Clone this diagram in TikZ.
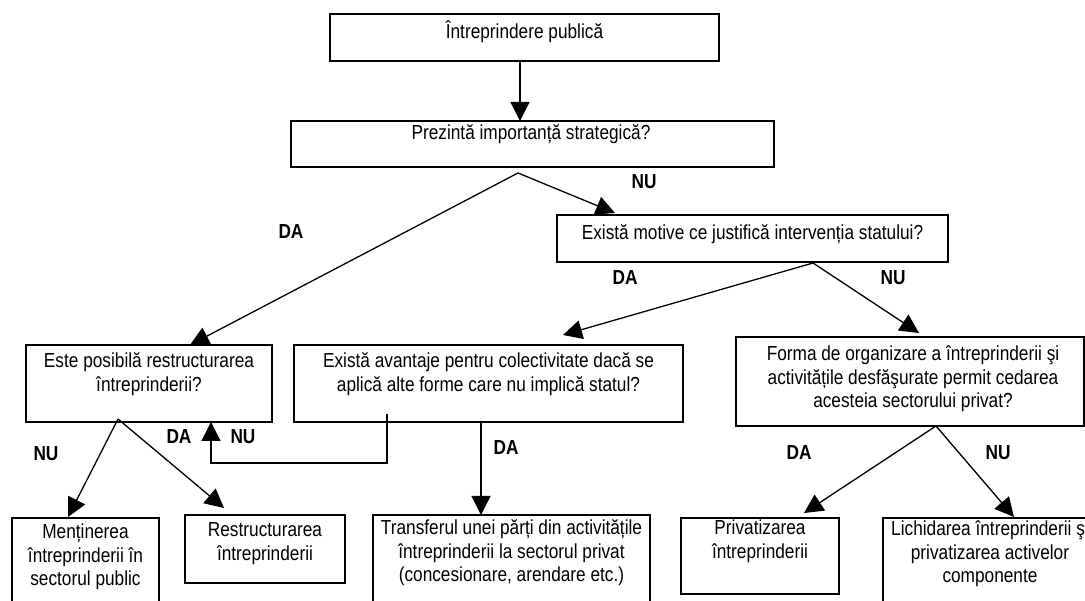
\documentclass[tikz,border=0pt]{standalone}
\usepackage{fontspec}
\setmainfont[FakeStretch=0.85]{Liberation Sans}
\usetikzlibrary{arrows.meta}
\begin{document}
\begin{tikzpicture}[x=1pt,y=-1pt,
  box/.style={draw, line width=1.5pt, inner sep=0pt, outer sep=0pt, anchor=north west},
  txt/.style={anchor=north, inner sep=0pt, align=center, font=\fontsize{20.3}{23.5}\selectfont},
  lbl/.style={inner sep=0pt, font=\fontsize{20.3}{22}\selectfont\bfseries},
  arr/.style={line width=1.3pt, -{Triangle[length=19pt,width=19pt]}}]
\useasboundingbox (0,0) rectangle (1085,601);
\clip (0,0) rectangle (1085,601);
% boxes
\node[box, minimum width=389pt, minimum height=47pt] (top) at (330,14) {};
\node[box, minimum width=483pt, minimum height=46pt] (b2) at (291,121) {};
\node[box, minimum width=391pt, minimum height=47pt] (b3) at (557,215) {};
\node[box, minimum width=246pt, minimum height=77pt] (L) at (26,345) {};
\node[box, minimum width=389pt, minimum height=77pt] (M) at (294,345) {};
\node[box, minimum width=348pt, minimum height=89pt] (R) at (736,337) {};
\node[box, minimum width=147pt, minimum height=120pt] (Men) at (12,518) {};
\node[box, minimum width=160pt, minimum height=68pt] (Res) at (185,515) {};
\node[box, minimum width=277pt, minimum height=120pt] (Tr) at (373,515) {};
\node[box, minimum width=158pt, minimum height=76pt] (Pr) at (681,518) {};
\node[box, minimum width=250pt, minimum height=120pt] (Li) at (883,518) {};
% texts
\node[txt] (ttop) at (524.5,21) {\strut Întreprindere publică};
\node[txt] (tb2) at (531,123) {\strut Prezintă importanță strategică?};
\node[txt] (tb3) at (752.5,223) {\strut Există motive ce justifică intervenția statului?};
\node[txt] (tL) at (149,351) {\strut Este posibilă restructurarea\\întreprinderii?};
\node[txt] (tM) at (488.5,351) {\strut Există avantaje pentru colectivitate dacă se\\aplică alte forme care nu implică statul?};
\node[txt] (tR) at (913,344) {\strut Forma de organizare a întreprinderii şi\\activitățile desfăşurate permit cedarea\\acesteia sectorului privat?};
\node[txt] (tMen) at (85.5,522) {\strut Menținerea\\întreprinderii în\\sectorul public};
\node[txt] (tRes) at (265,520) {\strut Restructurarea\\întreprinderii};
\node[txt] (tTr) at (511.5,518) {\strut Transferul unei părți din activitățile\\întreprinderii la sectorul privat\\(concesionare, arendare etc.)};
\node[txt] (tPr) at (760,518) {\strut Privatizarea\\întreprinderii};
\node[txt] (tLi) at (990,519) {\strut Lichidarea întreprinderii şi\\privatizarea activelor\\componente};
% labels
\node[lbl] (l1) at (291,232) {DA};
\node[lbl] (l2) at (644,182) {NU};
\node[lbl] (l3) at (625,278) {DA};
\node[lbl] (l4) at (893,278) {NU};
\node[lbl] (l5) at (46,454) {NU};
\node[lbl] (l6) at (179,437) {DA};
\node[lbl] (l7) at (243,437) {NU};
\node[lbl] (l8) at (506,448) {DA};
\node[lbl] (l9) at (799,453) {DA};
\node[lbl] (l10) at (998,453) {NU};
% connector points
\coordinate (ax) at (520,0);
\coordinate (p1) at (518,173);
\coordinate (tipL) at (190,345);
\coordinate (tipB3) at (615,213);
\coordinate (p2) at (813,263);
\coordinate (tipM) at (563,335);
\coordinate (tipR) at (919,333);
\coordinate (p3) at (118,419);
\coordinate (tipMen) at (68,517);
\coordinate (tipRes) at (224,508);
\coordinate (fbTop) at (387,414);
\coordinate (fbR) at (387,463);
\coordinate (fbL) at (211,463);
\coordinate (dx) at (481,0);
\coordinate (p4) at (936,426);
\coordinate (tipPr) at (804,513);
\coordinate (tipLi) at (1014,517);
% connectors
\draw[arr] (ax |- top.south) -- (ax |- b2.north);
\draw[arr] (p1) -- (tipL);
\draw[arr] (p1) -- (tipB3);
\draw[arr] (p2) -- (tipM);
\draw[arr] (p2) -- (tipR);
\draw[arr] (p3) -- (tipMen);
\draw[arr] (p3) -- (tipRes);
\draw[arr] (fbTop) -- (fbR) -- (fbL) -- (fbL |- L.south);
\draw[arr] (dx |- M.south) -- (dx |- Tr.north);
\draw[arr] (p4) -- (tipPr);
\draw[arr] (p4) -- (tipLi);
\end{tikzpicture}
\end{document}
